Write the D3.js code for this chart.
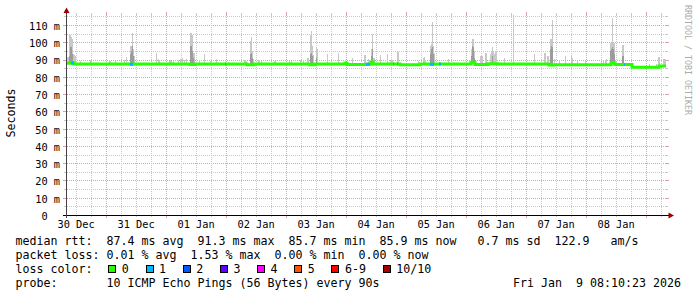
<!DOCTYPE html>
<html><head><meta charset="utf-8">
<script src="https://cdn.jsdelivr.net/npm/d3@7"></script>
<style>
html,body{margin:0;padding:0;background:#fff;}
svg{display:block;}
text{font-family:"DejaVu Sans Mono",monospace;white-space:pre;}
</style></head><body>
<svg id="c" width="697" height="297"></svg>
<script>
// ---------------- data ----------------
const startTime = new Date(2025, 11, 30, 8, 10, 23);
const endTime = new Date(2026, 0, 9, 8, 10, 23);
const bucketMinutes = 24;           // one consolidated sample
const yMaxMs = 115.8;

const yTickValues = [0, 10, 20, 30, 40, 50, 60, 70, 80, 90, 100, 110];
const yTickLabels = ["0  ", "10 m", "20 m", "30 m", "40 m", "50 m", "60 m", "70 m", "80 m", "90 m", "100 m", "110 m"];
const xTickLabels = ["30 Dec", "31 Dec", "01 Jan", "02 Jan", "03 Jan", "04 Jan", "05 Jan", "06 Jan", "07 Jan", "08 Jan"];

// smoke samples: [hours since start, highest ping ms, dense-band top ms (or null)]
const smokeSamples = [
 [0.4,91.5,null],[0.8,91.5,null],[1.2,104,92],[1.6,104,97],[2.0,103,97],[2.4,102,93],[2.8,93,89],[3.2,92.8,null],[3.6,92,null],
 [5.6,89,null],[9.6,89.6,null],[10.0,89.6,null],[17.2,89.6,null],[17.6,89.4,null],[19.6,89,null],[23.2,90,null],[24.0,91.5,null],
 [25.6,98,93],[26.0,98,95],[26.4,105.6,98],[26.8,96,92],[27.2,92,null],[36.0,94,null],[36.8,90.2,null],[37.2,90,null],
 [41.2,89.4,null],[41.6,89.6,null],[42.0,89.2,null],[42.8,89,null],[44.8,90,null],[45.6,90.5,null],[46.4,91,null],[47.2,90,null],[48.0,90.3,null],
 [49.6,105.5,98],[50.0,105.5,98],[50.4,104,95],[50.8,94,91],[51.2,94,null],[53.2,89.6,null],[55.2,93.4,null],[57.6,89,null],[60.0,90.5,null],
 [71.2,89.6,null],[71.6,89.6,null],[72.0,89.4,null],[73.6,101,93],[74.0,103,94],[74.4,95,91],[74.8,90.5,null],
 [76.8,89.6,null],[77.2,89.6,null],[78.0,89.4,null],[83.2,89,null],[83.6,89,null],[89.2,89,null],[90.0,89,null],
 [93.6,89.6,null],[94.8,89.6,null],[96.4,91,null],[96.8,91,null],[97.6,104,93],[98.0,106.4,94],[98.4,98,92],[98.8,92.5,null],
 [100.0,96.7,91],[100.4,96,null],[104.4,93.4,null],[108.8,94,null],[111.6,90,null],[114.4,91,null],[119.2,92.5,null],[119.6,92.5,null],
 [120.8,90.5,null],[122.0,96,92],[122.4,105,96],[122.8,91,null],[123.2,91,null],[125.6,92.8,null],[128.4,93.4,null],
 [129.6,89.6,null],[130.0,89.6,null],[130.4,89.6,null],[132.4,94.4,null],[132.8,94.4,null],[140.8,89,null],
 [142.8,91,null],[143.2,91.5,null],[143.6,90,null],[145.6,98,93],[146.0,99,96],[146.4,111.8,97],[146.8,98,93],[147.2,93.7,null],[152.8,90.5,null],
 [162.0,96,92],[162.4,102,98],[162.8,102,97],[163.2,95,91],[165.6,92,null],[166.0,92,null],[166.4,92,null],[167.6,94,null],[168.0,94,null],
 [169.6,93,null],[170.0,95,null],[170.4,97,92],[170.8,95,null],[171.2,93,null],[171.6,94.8,null],[172.0,94.8,null],[175.2,91,null],[178.8,115.6,null],
 [187.2,93.4,null],[191.2,94,null],[191.6,94,null],[192.4,92,null],[192.8,92,null],[193.6,102,96],[194.0,102,98],[194.4,112.7,97],
 [195.2,90.5,null],[197.2,90,null],[199.6,92,null],[202.0,92,null],[202.4,91,null],[204.4,89.6,null],[207.6,89,null],
 [214.0,89.5,null],[214.8,89.5,null],[215.6,90,null],[216.0,90.5,null],[217.6,99.6,95],[218.0,99.6,96],[218.4,114,97],[218.8,100,96],[219.2,99.6,93],
 [222.4,98.6,92],[222.8,98.6,92],[233.2,87.6,null],[236.0,87.6,null],[236.8,91.5,null],[237.2,91.5,null],[238.8,90.5,null],[239.2,90.5,null],[239.6,90.5,null]
];

// median rtt steps: [hours since start, median ms, lost pings]
const medianSteps = [
 [0,87.8,0],[2.0,88.0,1],[3.2,87.4,0],[25.6,87.3,1],[26.8,87.4,0],[49.6,87.1,0],[51.6,87.4,0],[63.6,87.4,1],[64.0,87.4,0],
 [72.4,87.0,0],[75.2,87.4,0],[97.6,87.0,0],[99.6,87.4,0],[111.6,87.9,0],[112.4,87.2,0],[120.0,87.3,1],[121.6,87.4,0],
 [122.0,88.6,0],[122.8,87.4,0],[130.8,87.4,1],[131.2,87.4,0],[132.4,87.4,1],[132.8,87.4,0],[133.6,87.0,0],[141.6,87.4,0],
 [145.6,87.3,1],[147.2,87.4,0],[149.2,87.4,1],[150.0,87.4,0],[162.0,88.5,0],[163.6,87.2,0],[168.8,87.6,0],[172.8,87.4,0],
 [193.2,86.9,0],[195.2,87.0,0],[218.0,88.0,0],[219.6,87.2,0],[223.2,87.2,1],[223.6,87.2,0],[226.4,85.5,0],[237.2,86.3,0],[240,86.3,0]
];

const lossLabels = ["0", "1", "2", "3", "4", "5", "6-9", "10/10"];
const lossColors = ["#26ff00", "#00b8ff", "#0059ff", "#5e00ff", "#ff00ff", "#ff5500", "#ff0000", "#a10000"];

const rttLine  = "median rtt:  87.4 ms avg  91.3 ms max  85.7 ms min  85.9 ms now   0.7 ms sd  122.9   am/s";
const lossLine = "packet loss: 0.01 % avg  1.53 % max  0.00 % min  0.00 % now";
const colorLabel = "loss color:";
const probeLine = "probe:       10 ICMP Echo Pings (56 Bytes) every 90s";
const stampText = "Fri Jan  9 08:10:23 2026";
const yTitle = "Seconds";
const watermark = "RRDTOOL / TOBI OETIKER";

// ---------------- drawing ----------------
const svg = d3.select("#c");
const x = d3.scaleTime().domain([startTime, endTime]).range([66, 666]);
const y = d3.scaleLinear().domain([0, yMaxMs]).range([215, 15]);
const atHour = h => new Date(startTime.getTime() + h * 3600e3);
const lossIndex = l => l <= 5 ? l : (l >= 10 ? 7 : 6);
const medianAt = h => { let m = medianSteps[0][1]; for (const s of medianSteps) { if (s[0] <= h) m = s[1]; } return m; };

svg.append("rect").attr("width", 697).attr("height", 297).attr("fill", "#fff");

// grid
const grid = svg.append("g").attr("shape-rendering", "crispEdges");
d3.range(5, yMaxMs, 5).forEach(v => {
  const yy = Math.round(y(v)) + 0.5;
  const major = v % 10 === 0;
  const col = major ? "#dea0a0" : "#c8c8c8";
  grid.append("line").attr("x1", 67).attr("x2", 666).attr("y1", yy).attr("y2", yy)
    .attr("stroke", col).attr("stroke-dasharray", "1,1");
  grid.append("line").attr("x1", major ? 63 : 64).attr("x2", 66).attr("y1", yy).attr("y2", yy).attr("stroke", col);
  grid.append("line").attr("x1", 666).attr("x2", major ? 669 : 668).attr("y1", yy).attr("y2", yy).attr("stroke", col);
});
d3.timeHour.every(6).range(startTime, endTime).forEach(d => {
  const xx = Math.round(x(d)) + 0.5;
  const major = d.getHours() === 0;
  const col = major ? "#dea0a0" : "#c8c8c8";
  grid.append("line").attr("x1", xx).attr("x2", xx).attr("y1", 15).attr("y2", 215)
    .attr("stroke", col).attr("stroke-dasharray", "1,1");
  grid.append("line").attr("x1", xx).attr("x2", xx).attr("y1", 215).attr("y2", major ? 218 : 217).attr("stroke", col);
  grid.append("line").attr("x1", xx).attr("x2", xx).attr("y1", major ? 12 : 13).attr("y2", 15).attr("stroke", col);
});

// smoke
const smoke = svg.append("g").attr("shape-rendering", "crispEdges");
smokeSamples.forEach(([h, hi, mid]) => {
  const x0 = Math.round(x(atHour(h)));
  const x1 = Math.round(x(atHour(h + bucketMinutes / 60)));
  const base = Math.round(y(medianAt(h)));
  const yh = Math.round(y(hi));
  smoke.append("rect").attr("x", x0).attr("width", Math.max(1, x1 - x0))
    .attr("y", yh).attr("height", Math.max(1, base - yh)).attr("fill", "#c8c8c8");
  if (mid !== null) {
    const ym = Math.round(y(mid));
    smoke.append("rect").attr("x", x0).attr("width", Math.max(1, x1 - x0))
      .attr("y", ym).attr("height", Math.max(1, base - ym)).attr("fill", "#9c9c9c");
  }
});

// median line
const line = d3.line().x(d => x(atHour(d[0]))).y(d => y(d[1])).curve(d3.curveStepAfter);
svg.append("path").datum(medianSteps).attr("d", line).attr("fill", "none")
  .attr("stroke", lossColors[0]).attr("stroke-width", 3);
medianSteps.forEach((s, i) => {
  if (s[2] > 0 && i < medianSteps.length - 1) {
    const nxt = medianSteps[i + 1];
    svg.append("line").attr("x1", x(atHour(s[0]))).attr("x2", x(atHour(nxt[0])))
      .attr("y1", y(s[1])).attr("y2", y(s[1]))
      .attr("stroke", lossColors[lossIndex(s[2])]).attr("stroke-width", 3);
  }
});

// axes lines
svg.append("line").attr("x1", 63).attr("x2", 669).attr("y1", 215.5).attr("y2", 215.5).attr("stroke", "#000");
svg.append("line").attr("x1", 66.5).attr("x2", 66.5).attr("y1", 218).attr("y2", 12).attr("stroke", "#444");
svg.append("path").attr("d", "M66.5,7.5 L63.5,13 L69.5,13 Z").attr("fill", "#9a0000");
svg.append("path").attr("d", "M674,215.5 L668.5,212.5 L668.5,218.5 Z").attr("fill", "#9a0000");

// y axis labels
const yAxis = d3.axisLeft(y).tickValues(yTickValues).tickFormat((d, i) => yTickLabels[i]).tickSize(0).tickPadding(6);
const gy = svg.append("g").attr("transform", "translate(66,0)").call(yAxis);
gy.attr("font-family", "DejaVu Sans Mono").attr("font-size", "10.3px");
gy.select(".domain").remove();
gy.selectAll("text").attr("dy", "0.43em").attr("fill", "#000");

// x axis labels
const noonDates = d3.timeDay.range(d3.timeDay.floor(startTime), d3.timeDay.floor(endTime)).map(d => d3.timeHour.offset(d, 12));
const xAxis = d3.axisBottom(x).tickValues(noonDates).tickFormat((d, i) => xTickLabels[i]).tickSize(0).tickPadding(6);
const gx = svg.append("g").attr("transform", "translate(0,215)").call(xAxis);
gx.attr("font-family", "DejaVu Sans Mono").attr("font-size", "10.3px");
gx.select(".domain").remove();
gx.selectAll("text").attr("fill", "#000");

// y title
svg.append("text").attr("transform", "translate(15,113) rotate(-90)").attr("text-anchor", "middle")
  .attr("font-size", "11.63px").attr("fill", "#000").text(yTitle);

// watermark
svg.append("text").attr("transform", "translate(685,5) rotate(90)").attr("font-size", "8.3px")
  .attr("fill", "#acacac").text(watermark);

// legend
const lf = "11.63px";
svg.append("text").attr("x", 15.5).attr("y", 244.5).attr("font-size", lf).text(rttLine);
svg.append("text").attr("x", 15.5).attr("y", 258.5).attr("font-size", lf).text(lossLine);
svg.append("text").attr("x", 15.5).attr("y", 272.5).attr("font-size", lf).text(colorLabel);
svg.append("text").attr("x", 15.5).attr("y", 286.5).attr("font-size", lf).text(probeLine);
svg.append("text").attr("x", 681).attr("y", 286.5).attr("text-anchor", "end").attr("font-size", lf).text(stampText);

let bx = 108.3;
lossLabels.forEach((lab, i) => {
  svg.append("rect").attr("x", Math.round(bx) + 0.5).attr("y", 265.5).attr("width", 7).attr("height", 7)
    .attr("fill", lossColors[i]).attr("stroke", "#000").attr("stroke-width", 1);
  svg.append("text").attr("x", bx + 13.5).attr("y", 272.5).attr("font-size", lf).text(lab);
  bx += 30.2 + 7 * lab.length;
});
</script>
</body></html>
